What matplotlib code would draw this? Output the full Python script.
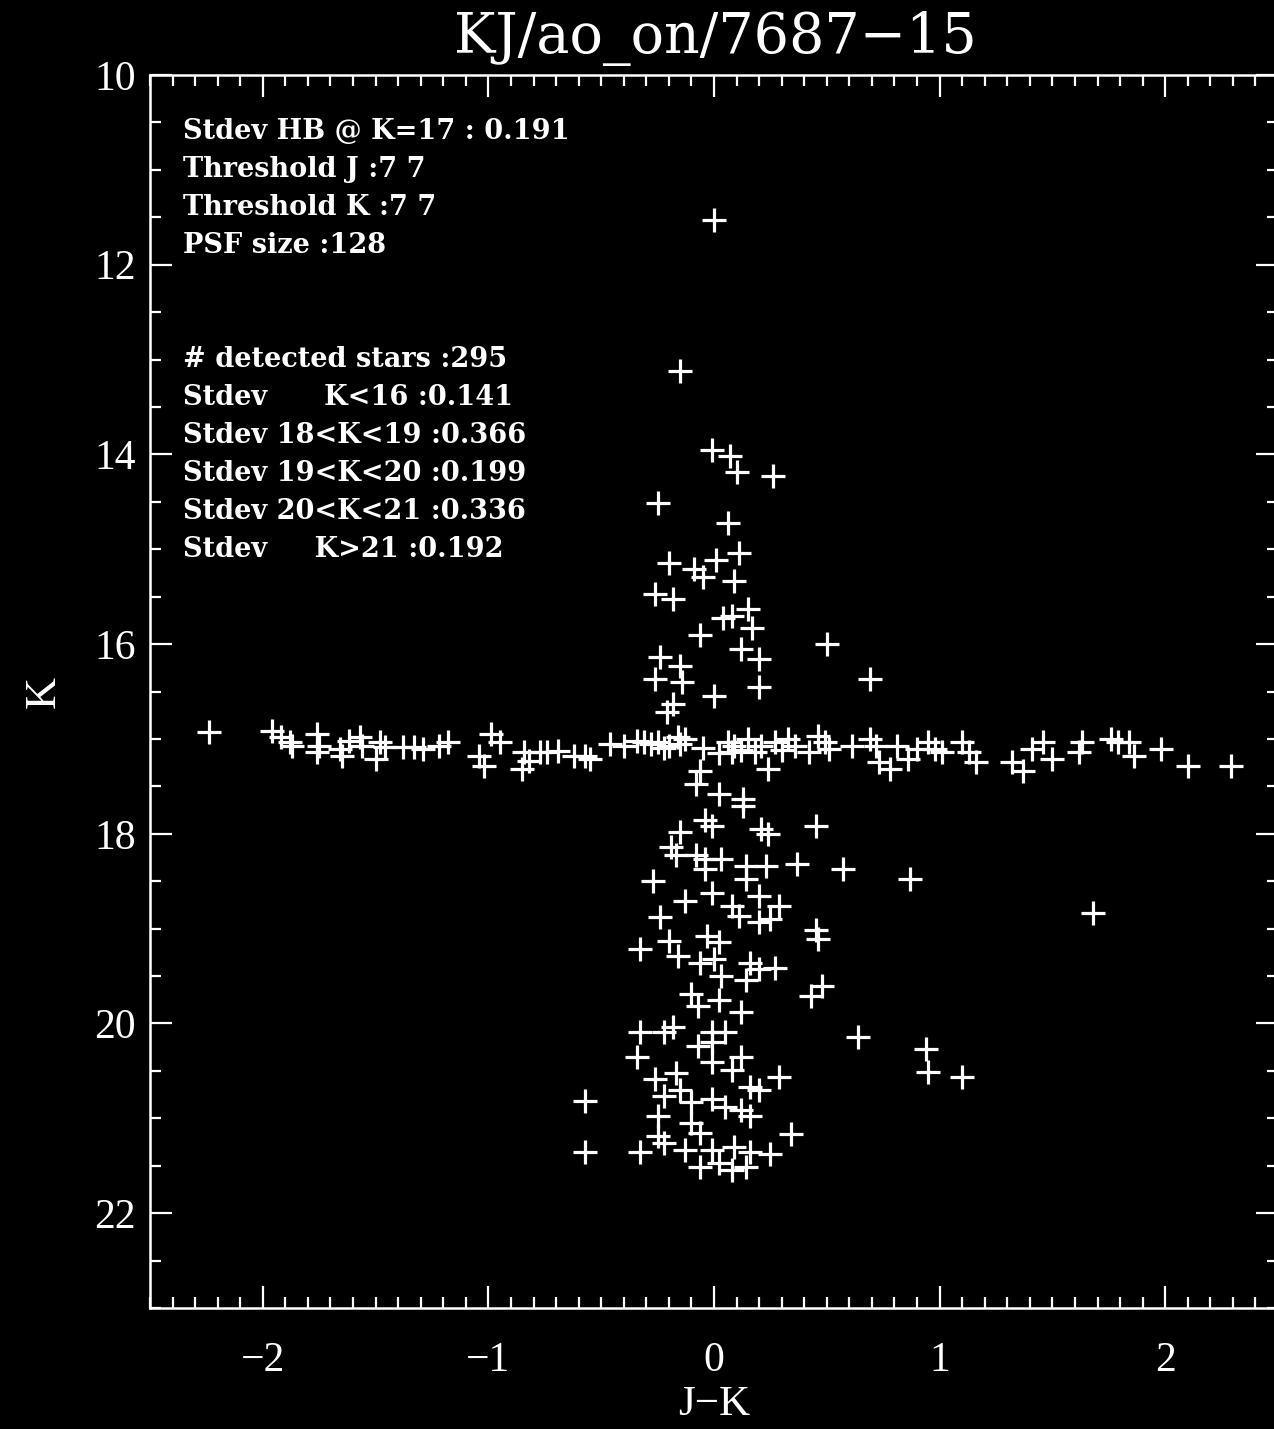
import matplotlib
matplotlib.use("Agg")
import matplotlib.pyplot as plt
from matplotlib.ticker import MultipleLocator

# ---- data: J-K colour and K magnitude ----
upper_jk = [0.00, -0.15, -0.01, 0.07, 0.10, 0.26, -0.25, 0.06, 0.11, 0.01, -0.20, -0.09,
            -0.05, 0.09, -0.26, -0.18, 0.15, 0.08, 0.04, 0.17, -0.06, 0.50, 0.12, 0.20,
            -0.24, -0.15, -0.26, -0.14, 0.20, 0.00, -0.18, -0.21, 0.69]
upper_k = [11.53, 13.12, 13.95, 14.02, 14.19, 14.23, 14.51, 14.72, 15.04, 15.11, 15.14, 15.21,
           15.29, 15.33, 15.47, 15.53, 15.63, 15.70, 15.72, 15.83, 15.90, 16.00, 16.05, 16.16,
           16.14, 16.23, 16.37, 16.40, 16.45, 16.55, 16.63, 16.72, 16.37]

hb_jk = [-2.24, -1.96, -1.92, -1.88, -1.87, -1.76, -1.75, -1.76, -1.66, -1.65, -1.62, -1.57,
         -1.56, -1.50, -1.48, -1.46, -1.38, -1.33, -1.29, -1.22, -1.18, -0.99, -0.95, -1.04,
         -1.02, -0.84, -0.82, -0.85, -0.77, -0.74, -0.69, -0.62, -0.57, -0.55, -0.46, -0.40,
         -0.34, -0.31, -0.28, -0.25, -0.20, -0.16, -0.15, -0.13, -0.06, 0.06, 0.08, 0.09,
         0.15, 0.18, 0.21, 0.24, 0.27, 0.33, 0.36, 0.42, 0.46, 0.49, 0.51, 0.61, 0.69, 0.72,
         0.73, 0.78, 0.81, 0.86, 0.90, 0.95, 0.98, 1.01, 1.10, 1.13, 1.16, 1.32, 1.37, 1.41,
         1.46, 1.50, 1.62, 1.63, 1.76, 1.79, 1.84, 1.86, 1.98, 2.10, 2.29,
         -0.05, 0.02, 0.12, -0.22, 0.30]
hb_k = [16.93, 16.92, 16.98, 17.03, 17.07, 16.95, 17.07, 17.14, 17.11, 17.18, 17.02, 16.98,
        17.07, 17.21, 17.03, 17.09, 17.09, 17.09, 17.11, 17.07, 17.03, 16.95, 17.03, 17.18,
        17.29, 17.14, 17.23, 17.32, 17.14, 17.14, 17.13, 17.18, 17.18, 17.21, 17.05, 17.07,
        17.02, 17.03, 17.05, 17.03, 17.07, 16.98, 17.05, 17.00, 17.34, 17.03, 17.14, 17.07,
        17.00, 17.14, 17.07, 17.32, 17.03, 17.00, 17.07, 17.14, 16.97, 17.03, 17.11, 17.07,
        17.00, 17.07, 17.24, 17.32, 17.07, 17.21, 17.11, 17.03, 17.11, 17.14, 17.03, 17.14,
        17.24, 17.24, 17.34, 17.11, 17.03, 17.21, 17.14, 17.03, 17.00, 17.03, 17.03, 17.18,
        17.11, 17.29, 17.29,
        17.10, 17.15, 17.12, 17.10, 17.12]

lower_jk = [-0.08, 0.02, 0.13, 0.13, -0.04, -0.01, 0.21, 0.24, 0.45, -0.15, -0.19, -0.17,
            -0.08, -0.04, 0.03, -0.04, 0.14, 0.23, 0.14, 0.37, 0.57, 0.87, -0.27, -0.01,
            -0.13, 0.08, 0.20, 0.29, 0.11, 0.20, -0.24, 0.25, 1.68, 0.45, 0.46, -0.20,
            -0.33, -0.16, -0.03, 0.02, 0.00, -0.06, 0.16, 0.20, 0.27, 0.14, 0.03, 0.48,
            0.43, -0.10, -0.07, 0.02, 0.12, -0.33, -0.22, -0.18, -0.34, -0.01, 0.05, -0.07,
            -0.01, 0.12, -0.01, 0.08, 0.29, -0.26, -0.17, -0.22, -0.15, 0.16, 0.20, -0.57,
            -0.10, -0.01, 0.05, 0.12, 0.16, -0.25, -0.10, -0.06, 0.34, -0.25, -0.22, -0.33,
            -0.57, -0.13, -0.01, 0.09, 0.16, 0.25, -0.06, 0.02, 0.08, 0.14, 0.64, 0.94,
            0.95, 1.10]
lower_k = [17.48, 17.58, 17.63, 17.71, 17.85, 17.92, 17.95, 18.00, 17.92, 17.98, 18.14, 18.22,
           18.22, 18.27, 18.27, 18.37, 18.34, 18.34, 18.48, 18.32, 18.37, 18.48, 18.50, 18.62,
           18.71, 18.76, 18.66, 18.76, 18.87, 18.93, 18.88, 18.90, 18.84, 19.01, 19.11, 19.13,
           19.22, 19.29, 19.08, 19.14, 19.32, 19.36, 19.36, 19.43, 19.41, 19.54, 19.50, 19.61,
           19.71, 19.69, 19.82, 19.75, 19.88, 20.09, 20.09, 20.04, 20.35, 20.09, 20.09, 20.24,
           20.20, 20.35, 20.41, 20.49, 20.56, 20.59, 20.52, 20.77, 20.70, 20.67, 20.70, 20.82,
           20.83, 20.80, 20.88, 20.91, 20.98, 20.98, 21.05, 21.15, 21.17, 21.19, 21.26, 21.36,
           21.36, 21.33, 21.33, 21.30, 21.36, 21.38, 21.51, 21.47, 21.54, 21.51, 20.14, 20.27,
           20.51, 20.56]

title = "KJ/ao_on/7687\u221215"
info_lines = ["Stdev HB @ K=17 : 0.191",
              "Threshold J :7 7",
              "Threshold K :7 7",
              "PSF size :128",
              "# detected stars :295",
              "Stdev      K<16 :0.141",
              "Stdev 18<K<19 :0.366",
              "Stdev 19<K<20 :0.199",
              "Stdev 20<K<21 :0.336",
              "Stdev     K>21 :0.192"]
info_y = [10.6, 11.0, 11.4, 11.8, 13.0, 13.4, 13.8, 14.2, 14.6, 15.0]

# ---- figure ----
W, H = 1274, 1429
fig = plt.figure(figsize=(W / 100, H / 100), dpi=100, facecolor="black")
ax = fig.add_axes([150 / W, 1 - 1308 / H, 1128 / W, 1233 / H], facecolor="black")

jk = upper_jk + hb_jk + lower_jk
kk = upper_k + hb_k + lower_k
ax.plot(jk, kk, "+", color="white", ms=17, mew=2.3, linestyle="none")

ax.set_xlim(-2.5, 2.5)
ax.set_ylim(23, 10)

for s in ax.spines.values():
    s.set_color("white")
    s.set_linewidth(1.8)

ax.xaxis.set_major_locator(MultipleLocator(1))
ax.xaxis.set_minor_locator(MultipleLocator(0.1))
ax.yaxis.set_major_locator(MultipleLocator(2))
ax.yaxis.set_minor_locator(MultipleLocator(0.5))
ax.tick_params(which="both", direction="in", top=True, right=True, colors="white",
               width=1.6)
ax.tick_params(which="major", length=16, labelsize=30)
ax.tick_params(axis="x", which="major", pad=24)
ax.tick_params(axis="y", which="major", pad=10)
ax.tick_params(which="minor", length=8)
serif = "Liberation Serif"
ax.set_xticks([-2, -1, 0, 1, 2])
ax.set_xticklabels(["\u22122", "\u22121", "0", "1", "2"])
ax.set_yticks([10, 12, 14, 16, 18, 20, 22])
ax.set_yticklabels(["10", "12", "14", "16", "18", "20", "22"])
for lab in ax.get_xticklabels() + ax.get_yticklabels():
    lab.set_fontfamily(serif)
    lab.set_color("white")

ax.set_xlabel("J\u2212K", color="white", fontsize=31, family=serif, labelpad=4)
ax.set_ylabel("K", color="white", fontsize=32, family=serif, labelpad=22)
fig.text(715 / W, 1 - 38 / H, title, color="white", fontsize=40, family="DejaVu Serif",
         ha="center", va="center")

for txt, yv in zip(info_lines, info_y):
    ax.text(-2.355, yv, txt, color="white", fontsize=19.5, family="DejaVu Serif",
            fontweight="bold", ha="left", va="center")

fig.savefig("out.png", dpi=100, facecolor="black")
